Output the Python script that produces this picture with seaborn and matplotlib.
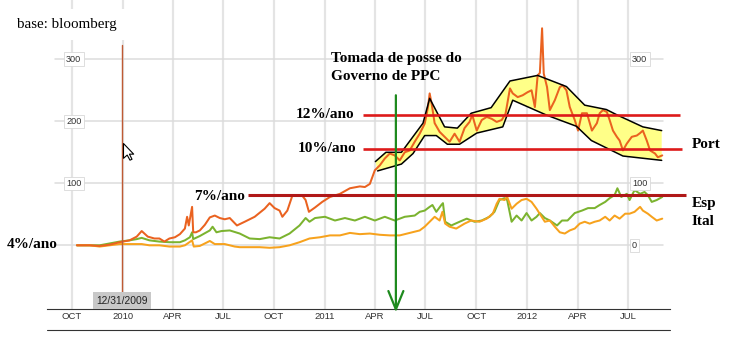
import matplotlib
matplotlib.use("Agg")
import matplotlib.pyplot as plt
import matplotlib.dates as mdates
import matplotlib.transforms as mtransforms
from matplotlib.ticker import FuncFormatter
from matplotlib.lines import Line2D
from matplotlib.path import Path
import pandas as pd
import seaborn as sns

# Variação (%) da taxa da dívida a 10 anos desde o início da série
pt_dates = [
    "2009-10-10", "2009-11-02", "2009-11-20", "2009-12-08", "2009-12-26", "2010-01-13", "2010-01-26", "2010-02-04",
    "2010-02-15", "2010-02-27", "2010-03-08", "2010-03-17", "2010-03-26", "2010-04-05", "2010-04-14", "2010-04-23",
    "2010-04-27", "2010-04-30", "2010-05-06", "2010-05-08", "2010-05-13", "2010-05-20", "2010-05-29", "2010-06-07",
    "2010-06-16", "2010-06-25", "2010-07-04", "2010-07-13", "2010-07-26", "2010-08-09", "2010-08-27", "2010-09-14",
    "2010-09-23", "2010-10-02", "2010-10-11", "2010-10-16", "2010-10-25", "2010-11-03", "2010-11-12", "2010-11-21",
    "2010-11-27", "2010-12-03", "2010-12-14", "2010-12-27", "2011-01-10", "2011-01-28", "2011-02-15", "2011-03-05",
    "2011-03-14", "2011-03-23", "2011-04-01", "2011-04-10", "2011-04-19", "2011-04-28", "2011-05-07", "2011-05-16",
    "2011-05-25", "2011-06-03", "2011-06-12", "2011-06-21", "2011-06-30", "2011-07-06", "2011-07-09", "2011-07-13",
    "2011-07-18", "2011-07-27", "2011-08-05", "2011-08-14", "2011-08-23", "2011-09-01", "2011-09-10", "2011-09-19",
    "2011-09-24", "2011-10-02", "2011-10-11", "2011-10-20", "2011-10-29", "2011-11-07", "2011-11-16", "2011-11-23",
    "2011-12-01", "2011-12-06", "2011-12-15", "2011-12-24", "2012-01-02", "2012-01-09", "2012-01-15", "2012-01-20",
    "2012-01-24", "2012-01-28", "2012-01-31", "2012-02-06", "2012-02-11", "2012-02-20", "2012-02-29", "2012-03-05",
    "2012-03-12", "2012-03-18", "2012-03-27", "2012-04-02", "2012-04-09", "2012-04-18", "2012-04-27", "2012-05-06",
    "2012-05-11", "2012-05-17", "2012-05-24", "2012-05-29", "2012-06-04", "2012-06-11", "2012-06-16", "2012-06-22",
    "2012-06-29", "2012-07-08", "2012-07-17", "2012-07-23", "2012-07-28", "2012-08-04", "2012-08-10", "2012-08-19",
    "2012-08-24", "2012-09-01",
]
pt_vals = [
    0, 0, -1, 1, 5, 8, 14, 23,
    14, 11, 11, 6, 11, 13, 18, 27,
    46, 32, 62, 21, 21, 24, 33, 45,
    48, 44, 42, 44, 32, 38, 46, 59,
    68, 60, 56, 46, 56, 80, 80, 80,
    73, 54, 61, 70, 78, 83, 92, 95,
    94, 99, 121, 129, 140, 148, 145, 137,
    150, 153, 167, 180, 196, 223, 245, 226,
    197, 183, 175, 167, 180, 167, 189, 199,
    210, 185, 202, 207, 204, 199, 202, 212,
    253, 245, 239, 242, 247, 250, 223, 274,
    278, 350, 277, 255, 218, 234, 255, 258,
    250, 223, 202, 185, 213, 213, 185, 197,
    213, 218, 215, 202, 185, 175, 169, 153,
    164, 175, 177, 181, 185, 169, 153, 148,
    142, 145,
]

es_dates = [
    "2009-10-10", "2009-11-02", "2009-11-20", "2009-12-08", "2009-12-26", "2010-01-13", "2010-01-26", "2010-02-04",
    "2010-02-18", "2010-03-08", "2010-03-26", "2010-04-14", "2010-04-23", "2010-05-02", "2010-05-06", "2010-05-08",
    "2010-05-20", "2010-06-07", "2010-06-12", "2010-06-19", "2010-06-28", "2010-07-13", "2010-07-31", "2010-08-18",
    "2010-09-05", "2010-09-23", "2010-10-11", "2010-10-29", "2010-11-16", "2010-11-27", "2010-12-04", "2010-12-14",
    "2011-01-01", "2011-01-19", "2011-02-06", "2011-02-24", "2011-03-14", "2011-04-01", "2011-04-19", "2011-05-07",
    "2011-05-25", "2011-06-12", "2011-06-21", "2011-06-30", "2011-07-09", "2011-07-14", "2011-07-21", "2011-07-30",
    "2011-08-02", "2011-08-06", "2011-08-17", "2011-09-01", "2011-09-14", "2011-09-28", "2011-10-11", "2011-10-25",
    "2011-11-03", "2011-11-12", "2011-11-21", "2011-11-26", "2011-12-04", "2011-12-13", "2011-12-22", "2011-12-31",
    "2012-01-09", "2012-01-18", "2012-01-24", "2012-02-02", "2012-02-11", "2012-02-24", "2012-03-04", "2012-03-14",
    "2012-03-27", "2012-04-09", "2012-04-20", "2012-05-02", "2012-05-11", "2012-05-21", "2012-05-29", "2012-06-07",
    "2012-06-12", "2012-06-19", "2012-06-29", "2012-07-04", "2012-07-13", "2012-07-23", "2012-07-31", "2012-08-06",
    "2012-08-13", "2012-08-22", "2012-09-01",
]
es_vals = [
    0, 0, 0, 3, 6, 8, 10, 12,
    8, 6, 5, 5, 8, 13, 21, 10,
    15, 24, 30, 21, 23, 24, 19, 11,
    10, 13, 11, 19, 32, 44, 38, 44,
    46, 40, 44, 40, 46, 40, 46, 40,
    46, 48, 54, 56, 62, 65, 54, 65,
    68, 38, 32, 38, 43, 38, 40, 46,
    54, 73, 76, 73, 38, 48, 40, 52,
    40, 46, 52, 44, 40, 32, 40, 40,
    52, 56, 60, 60, 65, 70, 76, 81,
    92, 78, 83, 73, 89, 83, 86, 81,
    70, 73, 78,
]

it_dates = [
    "2009-10-10", "2009-11-02", "2009-11-20", "2009-12-08", "2009-12-26", "2010-01-13", "2010-02-04", "2010-02-18",
    "2010-03-08", "2010-03-26", "2010-04-14", "2010-04-23", "2010-05-06", "2010-05-09", "2010-05-20", "2010-06-07",
    "2010-06-16", "2010-07-04", "2010-07-22", "2010-07-31", "2010-08-18", "2010-09-05", "2010-09-23", "2010-10-11",
    "2010-10-29", "2010-11-16", "2010-12-04", "2010-12-23", "2011-01-10", "2011-01-28", "2011-02-15", "2011-03-05",
    "2011-03-23", "2011-04-10", "2011-04-28", "2011-05-16", "2011-06-03", "2011-06-21", "2011-06-30", "2011-07-09",
    "2011-07-18", "2011-07-27", "2011-08-01", "2011-08-06", "2011-08-14", "2011-08-26", "2011-09-10", "2011-09-22",
    "2011-10-07", "2011-10-20", "2011-10-31", "2011-11-07", "2011-11-12", "2011-11-21", "2011-11-26", "2011-12-04",
    "2011-12-13", "2011-12-22", "2011-12-31", "2012-01-09", "2012-01-18", "2012-02-02", "2012-02-11", "2012-02-20",
    "2012-02-29", "2012-03-09", "2012-03-18", "2012-03-27", "2012-04-05", "2012-04-14", "2012-04-23", "2012-05-02",
    "2012-05-11", "2012-05-21", "2012-05-29", "2012-06-07", "2012-06-16", "2012-06-26", "2012-07-04", "2012-07-13",
    "2012-07-23", "2012-07-28", "2012-08-06", "2012-08-13", "2012-08-22", "2012-09-01",
]
it_vals = [
    0, 0, -2, 0, 2, 2, 2, 0,
    0, -2, -2, 0, 8, -2, -1, 7,
    2, 2, -2, -3, -3, -3, -4, -3,
    0, 5, 11, 13, 16, 16, 20, 18,
    19, 17, 16, 16, 20, 24, 30, 38,
    46, 40, 54, 35, 30, 27, 35, 40,
    38, 43, 51, 67, 75, 73, 78, 59,
    67, 73, 75, 70, 59, 38, 40, 30,
    21, 19, 24, 27, 35, 38, 35, 38,
    40, 46, 40, 48, 43, 51, 51, 54,
    62, 56, 51, 46, 40, 43,
]

paises = ["Esp", "Ital", "Port"]
cores = {"Esp": "#7bb32f", "Ital": "#f7a21d", "Port": "#ea6220"}

# Faixa de oscilação de Portugal após abril de 2011
env_sup_dates = ["2011-04-02", "2011-04-21", "2011-05-19", "2011-06-27", "2011-07-09", "2011-08-05", "2011-08-28",
                 "2011-09-22", "2011-10-28", "2011-12-01", "2012-01-20", "2012-03-12", "2012-04-14", "2012-05-23",
                 "2012-06-12", "2012-07-28", "2012-08-31"]
env_sup_vals = [135, 150, 150, 197, 237, 191, 189, 213, 222, 265, 274, 256, 226, 219, 210, 191, 185]
env_inf_dates = ["2011-04-06", "2011-05-19", "2011-06-09", "2011-06-30", "2011-07-21", "2011-08-10", "2011-09-01",
                 "2011-10-02", "2011-11-18", "2011-12-06", "2012-02-05", "2012-03-30", "2012-04-26", "2012-06-22",
                 "2012-08-31"]
env_inf_vals = [120, 131, 148, 177, 177, 163, 163, 181, 191, 234, 210, 192, 169, 144, 137]

# Níveis de referência da taxa anual
nivel_labels = ["12%/ano", "10%/ano", "7%/ano"]
nivel_vals = [210, 155, 81]
nivel_inicio = ["2011-03-10", "2011-03-10", "2010-08-15"]
nivel_fim = ["2012-10-03", "2012-10-07", "2012-10-14"]

posse_data = "2011-05-09"
cursor_data = "2009-12-31"
grade_y = [0, 100, 200, 300]
rot_esq = [300, 200, 100]
rot_dir = [300, 100, 0]

sns.set_theme(style="white")
plt.rcParams["font.family"] = ["Liberation Sans", "DejaVu Sans"]

W, H = 730, 346
fig = plt.figure(figsize=(W / 100, H / 100), dpi=100)
ax = fig.add_axes([47 / W, 37 / H, 623 / W, 309 / H])


def fx(px):
    return px / W


def fy(py):
    return 1 - py / H


frames = []
for nome, datas, vals in [("Esp", es_dates, es_vals), ("Ital", it_dates, it_vals), ("Port", pt_dates, pt_vals)]:
    frames.append(pd.DataFrame({"data": pd.to_datetime(datas), "var": vals, "pais": nome}))
df = pd.concat(frames, ignore_index=True)

# faixa amarela por baixo das séries
sup_x = mdates.date2num(pd.to_datetime(env_sup_dates))
inf_x = mdates.date2num(pd.to_datetime(env_inf_dates))
ax.fill(list(sup_x) + list(inf_x[::-1]), env_sup_vals + env_inf_vals[::-1],
        color="#ffff88", lw=0, zorder=1.5)

sns.lineplot(data=df, x="data", y="var", hue="pais", hue_order=paises, palette=cores,
             estimator=None, linewidth=1.45, legend=False, ax=ax, zorder=3)

ax.plot(sup_x, env_sup_vals, color="black", lw=1.1, zorder=4)
ax.plot(inf_x, env_inf_vals, color="black", lw=1.1, zorder=4)

# eixos
ax.set_xlim(mdates.date2num(pd.Timestamp("2009-08-17")), mdates.date2num(pd.Timestamp("2012-09-15")))
ax.set_ylim(-102.7, 395.6)


def rotulo(x, pos):
    d = mdates.num2date(x)
    return str(d.year) if d.month == 1 else d.strftime("%b").upper()


ax.xaxis.set_major_locator(mdates.MonthLocator(bymonth=[1, 4, 7, 10]))
ax.xaxis.set_major_formatter(FuncFormatter(rotulo))
ax.set_axisbelow(True)
ax.grid(axis="x", color="#e4e4e4", lw=1.6)
ax.grid(axis="y", visible=False)
for v in grade_y:
    ax.axhline(v, xmin=8 / 623, xmax=616 / 623, color="#dcdcdc", lw=1.1, zorder=0.6)
ax.set_yticks([])
ax.set_xlabel("")
ax.set_ylabel("")
ax.tick_params(axis="x", length=0, pad=2.0, labelsize=6.8, labelcolor="#333333")
for s in ["top", "left", "right"]:
    ax.spines[s].set_visible(False)
ax.spines["bottom"].set_color("#333333")
ax.spines["bottom"].set_linewidth(0.8)
fig.add_artist(Line2D([fx(47), fx(670)], [fy(330), fy(330)], color="#333333", lw=0.8))

# rótulos de valor dentro da área do gráfico
trans = mtransforms.blended_transform_factory(ax.transAxes, ax.transData)
caixa = dict(boxstyle="square,pad=0.25", fc="white", ec="#d8d8d8", lw=0.6)
for v in rot_esq:
    ax.text(19 / 623, v, str(v), transform=trans, ha="left", va="center", fontsize=6.6,
            color="#333333", bbox=caixa, zorder=6)
for v in rot_dir:
    ax.text(585 / 623, v, str(v), transform=trans, ha="left", va="center", fontsize=6.6,
            color="#333333", bbox=caixa, zorder=6)

# linhas de nível
estilos = [("#dd1a1a", 1.9), ("#dd1a1a", 1.9), ("#b01818", 2.2)]
for v, d0, d1, (cor, lw) in zip(nivel_vals, nivel_inicio, nivel_fim, estilos):
    ax.plot(mdates.date2num(pd.to_datetime([d0, d1])), [v, v], color=cor, lw=lw,
            clip_on=False, zorder=5, solid_capstyle="butt")

# cursor de data
xc = mdates.date2num(pd.Timestamp(cursor_data))
ax.plot([xc, xc], [323, -77], color="#bf5a34", lw=1.0, zorder=5, clip_on=False)
ax.text(xc, -89, "12/31/2009", ha="center", va="center", fontsize=7.4, color="#222222",
        bbox=dict(boxstyle="square,pad=0.3", fc="#c8c8c8", ec="none"), zorder=6)
seta = Path([(0, 0), (0, -16), (4, -12.5), (7, -18), (9.2, -17), (6.4, -11.5), (11, -11.5), (0, 0)],
            [Path.MOVETO] + [Path.LINETO] * 6 + [Path.CLOSEPOLY])
ax.plot([mdates.date2num(pd.Timestamp("2010-01-01"))], [165], marker=seta, ms=24,
        mfc="white", mec="black", mew=0.8, ls="none", zorder=7, clip_on=False)

# tomada de posse do governo
xg = mdates.date2num(pd.Timestamp(posse_data))
ax.annotate("", xy=(xg, -108), xytext=(xg, 242), annotation_clip=False, zorder=6,
            arrowprops=dict(arrowstyle="->,head_length=1.1,head_width=0.45", color="#1e8a1e",
                            lw=1.6, shrinkA=0, shrinkB=0))

serif = dict(family=["Liberation Serif", "DejaVu Serif"], fontweight="bold", fontsize=11, color="black")
fig.text(fx(17), fy(28.3), "base: bloomberg", family=["Liberation Serif", "DejaVu Serif"],
         fontsize=10.8, color="black", va="baseline", ha="left",
         bbox=dict(boxstyle="square,pad=0.6", fc="white", ec="none"))
fig.text(fx(331), fy(61.7), "Tomada de posse do", va="baseline", ha="left", **serif)
fig.text(fx(331), fy(80), "Governo de PPC", va="baseline", ha="left", **serif)
fig.text(fx(296), fy(118.3), nivel_labels[0], va="baseline", ha="left", **serif)
fig.text(fx(298), fy(151.5), nivel_labels[1], va="baseline", ha="left", **serif)
fig.text(fx(194), fy(199.5), nivel_labels[2], va="baseline", ha="left", **serif)
fig.text(fx(7), fy(248.3), "4%/ano", va="baseline", ha="left", **serif)
fig.text(fx(692), fy(148.3), "Port", va="baseline", ha="left", **serif)
fig.text(fx(692), fy(206.7), "Esp", va="baseline", ha="left", **serif)
fig.text(fx(692), fy(225), "Ital", va="baseline", ha="left", **serif)

fig.savefig("out.png", dpi=100)
